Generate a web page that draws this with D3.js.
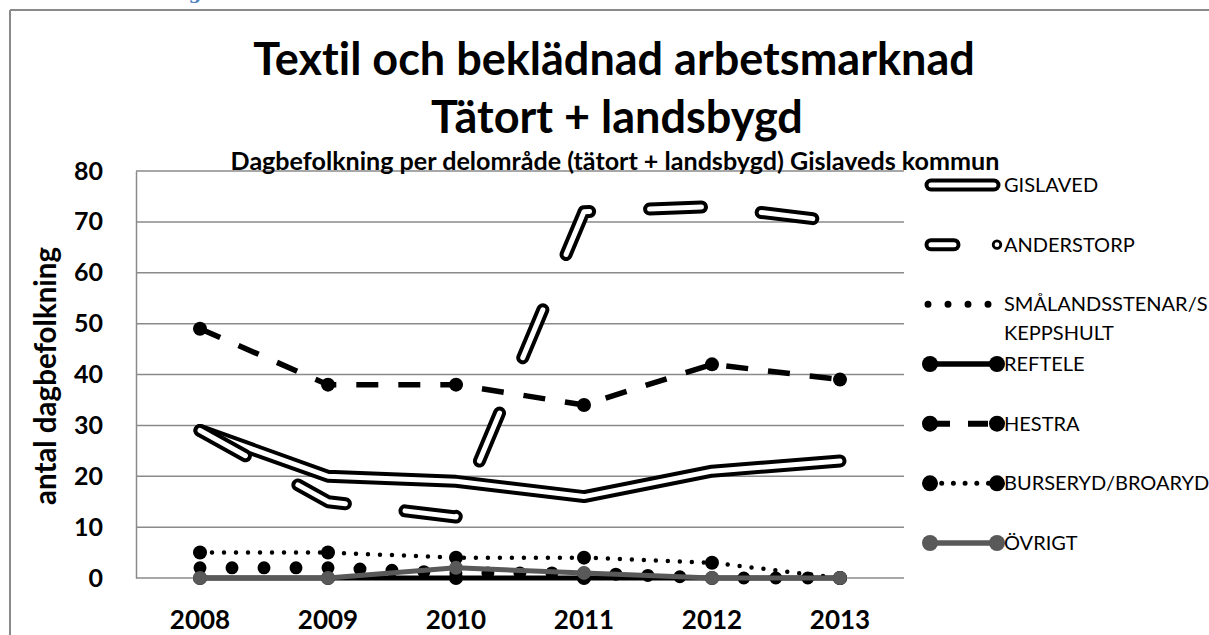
<!DOCTYPE html>
<html>
<head>
<meta charset="utf-8">
<script src="https://cdn.jsdelivr.net/npm/d3@7"></script>
<style>
  body { margin: 0; background: #fff; }
  svg text { font-family: Lato, "Open Sans", sans-serif; font-variant-ligatures: none; }
</style>
</head>
<body>
<div id="chart"></div>
<script>
// years on the category axis
var years = ["2008", "2009", "2010", "2011", "2012", "2013"];
var yTicks = [0, 10, 20, 30, 40, 50, 60, 70, 80];

// dagbefolkning per delområde
var gislaved       = [29, 20, 19, 16, 21, 23];
var anderstorp     = [29, 15, 12, 72, 73, 70];
var smalandsstenar = [2, 2, 1, 1, 0, 0];
var reftele        = [0, 0, 0, 0, 0, 0];
var hestra         = [49, 38, 38, 34, 42, 39];
var burseryd       = [5, 5, 4, 4, 3, 0];
var ovrigt         = [0, 0, 2, 1, 0, 0];

var names = ["GISLAVED", "ANDERSTORP", "SMÅLANDSSTENAR/SKEPPSHULT", "REFTELE", "HESTRA", "BURSERYD/BROARYD", "ÖVRIGT"];
var legendLines = [["GISLAVED"], ["ANDERSTORP"], ["SMÅLANDSSTENAR/S", "KEPPSHULT"], ["REFTELE"], ["HESTRA"], ["BURSERYD/BROARYD"], ["ÖVRIGT"]];

// how each series is drawn (Excel-ish line formats)
var styles = [
  {kind: "double", dash: null},
  {kind: "double", dash: "52,60", smallMarker: true},
  {kind: "line", color: "#000", width: 13, dash: "0,32", cap: "round", legendWidth: 7, legendDash: "0,20"},
  {kind: "line", color: "#000", width: 5, marker: true},
  {kind: "line", color: "#000", width: 5.5, dash: "22,20", cap: "butt", marker: true, legendDash: "20,18"},
  {kind: "line", color: "#000", width: 4.5, dash: "0,12", cap: "round", marker: true, legendDash: "0,11.7"},
  {kind: "line", color: "#595959", width: 5, marker: true}
];
var seriesValues = [gislaved, anderstorp, smalandsstenar, reftele, hestra, burseryd, ovrigt];

var W = 1209, H = 635;
var gridColor = "#8a8a8a";

var svg = d3.select("#chart").append("svg")
    .attr("width", W)
    .attr("height", H);

// bit of the page heading above the chart frame (only its descender shows)
svg.append("text")
    .text("g")
    .attr("x", 195)
    .attr("y", -1)
    .attr("text-anchor", "middle")
    .attr("fill", "#4f81bd")
    .style("font-family", "'DejaVu Serif', serif")
    .attr("font-weight", "bold")
    .attr("font-size", 18);

// chart frame (only top and left edges are on the page)
svg.append("line").attr("x1", 10).attr("x2", W).attr("y1", 10).attr("y2", 10)
    .attr("stroke", gridColor).attr("stroke-width", 2);
svg.append("line").attr("x1", 10).attr("x2", 10).attr("y1", 10).attr("y2", H)
    .attr("stroke", gridColor).attr("stroke-width", 2);

var x = d3.scaleBand().domain(years).range([136, 904]).padding(0);
var y = d3.scaleLinear().domain([0, 80]).range([578, 171]);
var cx = function(i) { return x(years[i]) + x.bandwidth() / 2; };

function fitWidth(sel, w) {
  var len = sel.node().getComputedTextLength();
  sel.attr("font-size", parseFloat(sel.attr("font-size")) * w / len);
  return sel;
}

// titles
var t1 = svg.append("text")
    .text("Textil och beklädnad arbetsmarknad")
    .attr("x", 614).attr("y", 75)
    .attr("text-anchor", "middle")
    .attr("font-weight", "bold")
    .attr("font-size", 40);
fitWidth(t1, 722);
svg.append("text")
    .text("Tätort + landsbygd")
    .attr("x", 617).attr("y", 133)
    .attr("text-anchor", "middle")
    .attr("font-weight", "bold")
    .attr("font-size", t1.attr("font-size"));

// gridlines
svg.append("g").selectAll("line")
    .data(yTicks)
    .join("line")
    .attr("x1", 136).attr("x2", 904)
    .attr("y1", function(d) { return y(d); })
    .attr("y2", function(d) { return y(d); })
    .attr("stroke", gridColor)
    .attr("stroke-width", 1.5);

// y axis
var yAxis = svg.append("g")
    .attr("transform", "translate(136,0)")
    .call(d3.axisLeft(y).tickValues(yTicks).tickSize(0).tickPadding(33));
yAxis.select(".domain").attr("stroke", gridColor).attr("stroke-width", 1.5);
yAxis.selectAll("text")
    .attr("font-size", 25)
    .attr("font-weight", "bold")
    .attr("fill", "#000")
    .style("font-family", "Lato, sans-serif");

// x axis labels
var xAxis = svg.append("g")
    .attr("transform", "translate(0,578)")
    .call(d3.axisBottom(x).tickSize(0).tickPadding(33));
xAxis.select(".domain").remove();
xAxis.selectAll("text")
    .attr("font-size", 26)
    .attr("font-weight", "bold")
    .attr("fill", "#000")
    .style("font-family", "Lato, sans-serif");

// subtitle sits on the top gridline
var sub = svg.append("text")
    .text("Dagbefolkning per delområde (tätort + landsbygd) Gislaveds kommun")
    .attr("x", 615).attr("y", 170)
    .attr("text-anchor", "middle")
    .attr("font-weight", "bold")
    .attr("font-size", 19);
fitWidth(sub, 769);

// y axis title
var yt = svg.append("text")
    .text("antal dagbefolkning")
    .attr("transform", "translate(56,376) rotate(-90)")
    .attr("text-anchor", "middle")
    .attr("font-weight", "bold")
    .attr("font-size", 24);
fitWidth(yt, 258);

// series
var line = d3.line()
    .x(function(d, i) { return cx(i); })
    .y(function(d) { return y(d); });

var plot = svg.append("g");
seriesValues.forEach(function(vals, k) {
  var s = styles[k];
  if (s.kind === "double") {
    plot.append("path").attr("d", line(vals))
        .attr("fill", "none").attr("stroke", "#000").attr("stroke-width", 13)
        .attr("stroke-linecap", "round").attr("stroke-linejoin", "round")
        .attr("stroke-dasharray", s.dash);
    plot.append("path").attr("d", line(vals))
        .attr("fill", "none").attr("stroke", "#fff").attr("stroke-width", 5)
        .attr("stroke-linecap", "round").attr("stroke-linejoin", "round")
        .attr("stroke-dasharray", s.dash);
  } else {
    plot.append("path").attr("d", line(vals))
        .attr("fill", "none").attr("stroke", s.color).attr("stroke-width", s.width)
        .attr("stroke-linecap", s.cap || "butt").attr("stroke-linejoin", "round")
        .attr("stroke-dasharray", s.dash || null);
    if (s.marker) {
      plot.append("g").selectAll("circle")
          .data(vals)
          .join("circle")
          .attr("cx", function(d, i) { return cx(i); })
          .attr("cy", function(d) { return y(d); })
          .attr("r", 7)
          .attr("fill", s.color);
    }
  }
});

// legend
var ly = d3.scalePoint().domain(names).range([185, 543]);
var lx0 = 930, lx1 = 997, ltx = 1004;
var legend = svg.append("g");
names.forEach(function(name, k) {
  var s = styles[k];
  var yy = ly(name);
  var g = legend.append("g");
  if (s.kind === "double") {
    var x1 = s.smallMarker ? 954 : 994;
    g.append("line").attr("x1", 931).attr("x2", x1).attr("y1", yy).attr("y2", yy)
        .attr("stroke", "#000").attr("stroke-width", 13).attr("stroke-linecap", "round");
    g.append("line").attr("x1", 931).attr("x2", x1).attr("y1", yy).attr("y2", yy)
        .attr("stroke", "#fff").attr("stroke-width", 5).attr("stroke-linecap", "round");
    if (s.smallMarker) {
      g.append("circle").attr("cx", lx1).attr("cy", yy).attr("r", 3.8)
          .attr("fill", "#fff").attr("stroke", "#000").attr("stroke-width", 2.8);
    }
  } else if (!s.marker) {
    g.append("line").attr("x1", 928).attr("x2", 990).attr("y1", yy).attr("y2", yy)
        .attr("stroke", s.color).attr("stroke-width", s.legendWidth)
        .attr("stroke-linecap", "round").attr("stroke-dasharray", s.legendDash);
  } else {
    g.append("line").attr("x1", lx0).attr("x2", lx1).attr("y1", yy).attr("y2", yy)
        .attr("stroke", s.color).attr("stroke-width", s.width + 0.5)
        .attr("stroke-linecap", s.cap || "butt").attr("stroke-dasharray", s.legendDash || null);
    g.selectAll("circle").data([lx0, lx1]).join("circle")
        .attr("cx", function(d) { return d; }).attr("cy", yy).attr("r", 8)
        .attr("fill", s.color);
  }
  var txt = g.append("text")
      .attr("x", ltx).attr("y", yy + 7)
      .attr("font-size", 20)
      .attr("fill", "#000");
  legendLines[k].forEach(function(l, j) {
    txt.append("tspan").attr("x", ltx).attr("dy", j === 0 ? 0 : 29).text(l);
  });
});
</script>
</body>
</html>
